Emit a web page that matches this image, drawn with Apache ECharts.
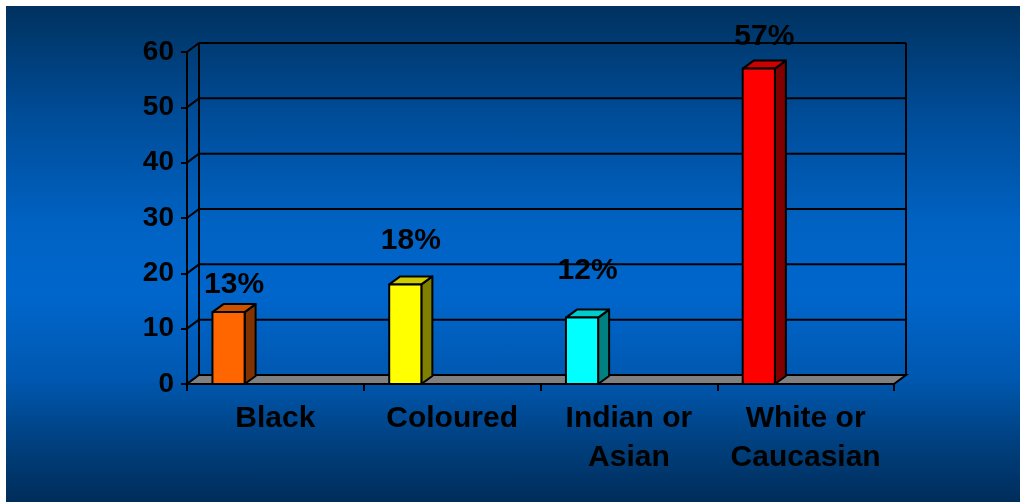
<!DOCTYPE html>
<html>
<head>
<meta charset="utf-8">
<title>Population groups</title>
<script src="https://cdn.jsdelivr.net/npm/echarts@6/dist/echarts.min.js"></script>
<style>
  html, body { margin: 0; padding: 0; background: #ffffff; }
  #panel {
    position: absolute; left: 6px; top: 6px; width: 1014px; height: 496px;
    background: linear-gradient(to bottom, #00325f 0%, #004c98 22%, #0063c4 45%, #0066cc 58%, #0058b0 75%, #00407f 88%, #002d5a 100%);
  }
  #chart { position: absolute; left: 0; top: 0; width: 1021px; height: 502px; }
</style>
</head>
<body>
<div id="panel"></div>
<div id="chart"></div>
<script>
// Share of each population group, percent
const categories = ['Black', 'Coloured', 'Indian or\nAsian', 'White or\nCaucasian'];
const shares = [13, 18, 12, 57];
const yTicks = [0, 10, 20, 30, 40, 50, 60];

// Face colours for each bar: front, top, side
const frontColors = ['#ff6600', '#ffff00', '#00ffff', '#ff0000'];
const topColors = ['#cc5200', '#cccc00', '#00cccc', '#cc0000'];
const sideColors = ['#803300', '#808000', '#008080', '#800000'];

// Depth of the box (wall offset) and of each bar, in pixels
const WALL_DX = 12, WALL_DY = -9;
const BAR_DX = 11, BAR_DY = -8;
const labelRaise = [27, 44, 47, 32];

const FONT = 'Liberation Sans, Arial, sans-serif';
const chart = echarts.init(document.getElementById('chart'), null, { renderer: 'canvas' });

function renderFrame(params, api) {
  const band = api.size([1, 0])[0];
  const n = categories.length;
  const x0 = api.coord([0, 0])[0] - band / 2;
  const x1 = api.coord([n - 1, 0])[0] + band / 2;
  const yBase = api.coord([0, 0])[1];
  const yTop = api.coord([0, yTicks[yTicks.length - 1]])[1];
  const line = { stroke: '#000', lineWidth: 2, fill: null };
  const children = [];
  // back wall side edges
  children.push({ type: 'line', shape: { x1: x0 + WALL_DX, y1: yTop + WALL_DY, x2: x0 + WALL_DX, y2: yBase + WALL_DY }, style: line });
  children.push({ type: 'line', shape: { x1: x1 + WALL_DX, y1: yTop + WALL_DY, x2: x1 + WALL_DX, y2: yBase + WALL_DY }, style: line });
  yTicks.forEach(function (t) {
    const y = api.coord([0, t])[1];
    if (t > 0) {
      // gridline on the back wall
      children.push({ type: 'line', shape: { x1: x0 + WALL_DX, y1: y + WALL_DY, x2: x1 + WALL_DX, y2: y + WALL_DY }, style: line });
    }
    // slanted connector from the front axis to the wall
    children.push({ type: 'line', shape: { x1: x0, y1: y, x2: x0 + WALL_DX, y2: y + WALL_DY }, style: line });
  });
  // floor
  children.push({
    type: 'polygon',
    shape: { points: [[x0, yBase], [x1, yBase], [x1 + WALL_DX, yBase + WALL_DY], [x0 + WALL_DX, yBase + WALL_DY]] },
    style: { fill: '#808080', stroke: '#000', lineWidth: 2 }
  });
  return { type: 'group', children: children };
}

function renderBar(params, api) {
  const i = api.value(0);
  const v = api.value(1);
  const band = api.size([1, 0])[0];
  const base = api.coord([i, 0]);
  const top = api.coord([i, v]);
  const left = base[0] - band / 2 + band * 0.144;
  const w = band * 0.182;
  const yT = top[1], yB = base[1];
  const edge = { stroke: '#000', lineWidth: 2, lineJoin: 'round' };
  return {
    type: 'group',
    children: [
      { type: 'polygon', shape: { points: [[left + w, yT], [left + w + BAR_DX, yT + BAR_DY], [left + w + BAR_DX, yB + BAR_DY], [left + w, yB]] },
        style: Object.assign({ fill: sideColors[i] }, edge) },
      { type: 'polygon', shape: { points: [[left, yT], [left + BAR_DX, yT + BAR_DY], [left + w + BAR_DX, yT + BAR_DY], [left + w, yT]] },
        style: Object.assign({ fill: topColors[i] }, edge) },
      { type: 'rect', shape: { x: left, y: yT, width: w, height: yB - yT },
        style: Object.assign({ fill: frontColors[i] }, edge) },
      { type: 'text', x: left + (w + BAR_DX) / 2, y: yT - labelRaise[i],
        style: { text: v + '%', fill: '#000', font: 'bold 30px ' + FONT, align: 'center', verticalAlign: 'middle' } }
    ]
  };
}

chart.setOption({
  backgroundColor: 'transparent',
  animation: false,
  grid: { left: 187, right: 127, top: 52, bottom: 118, containLabel: false },
  xAxis: {
    type: 'category',
    data: categories,
    boundaryGap: true,
    axisLine: { show: true, lineStyle: { color: '#000', width: 2 } },
    axisTick: { show: true, length: 7, lineStyle: { color: '#000', width: 2 } },
    axisLabel: { color: '#000', fontFamily: FONT, fontWeight: 'bold', fontSize: 30, lineHeight: 39, margin: 15, interval: 0 },
    splitLine: { show: false }
  },
  yAxis: {
    type: 'value',
    min: 0, max: 60, interval: 10,
    axisLine: { show: true, lineStyle: { color: '#000', width: 2 } },
    axisTick: { show: true, length: 6, lineStyle: { color: '#000', width: 2 } },
    axisLabel: { color: '#000', fontFamily: FONT, fontWeight: 'bold', fontSize: 28, margin: 13,
      formatter: function (val) { return yTicks.indexOf(val) >= 0 ? String(val) : ''; } },
    splitLine: { show: false }
  },
  series: [
    { type: 'custom', z: 1, clip: false, renderItem: renderFrame, data: [[0, 0]], silent: true },
    { type: 'custom', z: 2, clip: false, renderItem: renderBar,
      data: shares.map(function (v, i) { return [i, v]; }), silent: true }
  ]
});
</script>
</body>
</html>
